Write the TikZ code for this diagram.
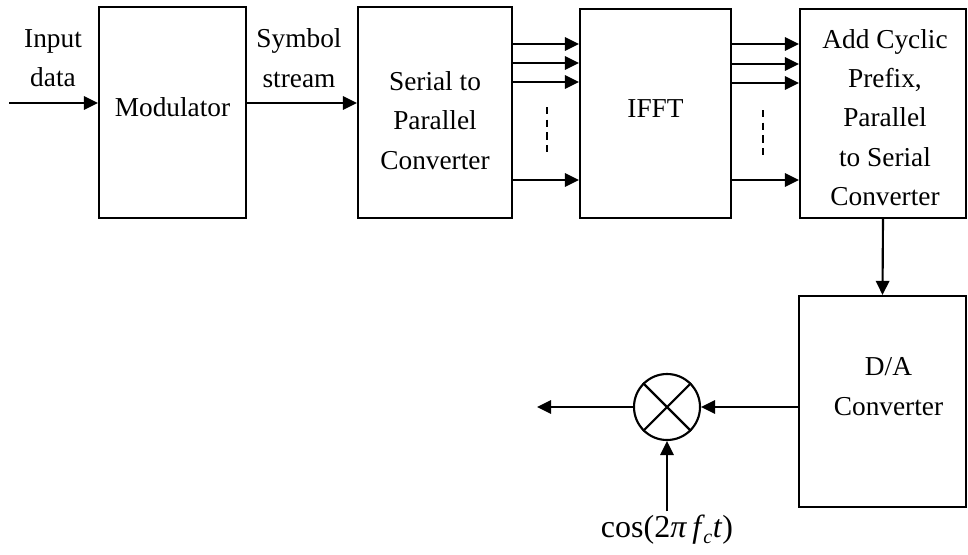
\documentclass[tikz,border=0pt]{standalone}
\usepackage{fontspec}
\setmainfont{Liberation Serif}
\usetikzlibrary{arrows.meta,calc}
\begin{document}
\begin{tikzpicture}[x=0.75pt,y=-0.75pt,
  line width=1.6pt,
  every node/.style={font=\fontsize{20.5}{29.5}\selectfont},
  blk/.style={draw,rectangle,inner sep=0pt},
  lbl/.style={align=center,inner sep=0pt},
  arr/.style={-{Triangle[length=10.5pt,width=10pt]}},
  dsh/.style={line width=1.4pt,dash pattern=on 5.5pt off 4pt}]
\useasboundingbox (0,0) rectangle (968,554);
% blocks
\node[blk,minimum width=147*0.75pt,minimum height=211*0.75pt] (mod) at (172.5,112.5) {};
\node[blk,minimum width=154*0.75pt,minimum height=211*0.75pt] (sp) at (435,112.5) {};
\node[blk,minimum width=151*0.75pt,minimum height=209*0.75pt] (ifft) at (655.5,113.5) {};
\node[blk,minimum width=166*0.75pt,minimum height=209*0.75pt] (cp) at (883,113.5) {};
\node[blk,minimum width=167*0.75pt,minimum height=211*0.75pt] (da) at (882.5,401.5) {};
\node[draw,circle,minimum size=66*0.75pt,inner sep=0pt] (mix) at (667,407) {};
\draw (mix.north west) -- (mix.south east) (mix.north east) -- (mix.south west);
% block texts
\node[lbl] (modt) at ($(mod)+(0,-5)$) {Modulator};
\node[lbl] (spt) at ($(sp)+(0,8)$) {Serial to\\Parallel\\Converter};
\node[lbl] (ifftt) at ($(ifft)+(0,-5)$) {IFFT};
\node[lbl] (cpt) at ($(cp)+(2,4)$) {Add Cyclic\\Prefix,\\Parallel\\to Serial\\Converter};
\node[lbl] (dat) at ($(da)+(6,-15)$) {D/A\\Converter};
% labels
\node[lbl] (inlbl) at (53,58) {Input\\data};
\node[lbl] (symlbl) at (299,58) {Symbol\\stream};
\node[lbl,font=\fontsize{24}{28}\selectfont] (cosl) at (667,530) {cos(2\textit{π}\,\textit{f}\kern-0.05em\raisebox{-0.35ex}{\fontsize{15}{15}\selectfont\textit{c}}\kern0.02em\textit{t})};
% helper coordinates
\coordinate (in) at (9,103);
\coordinate (ys) at (0,103);
\coordinate (a1) at (0,44);
\coordinate (a2) at (0,63);
\coordinate (a3) at (0,82);
\coordinate (a4) at (0,180);
\coordinate (b1) at (0,44);
\coordinate (b2) at (0,64);
\coordinate (b3) at (0,83);
\coordinate (b4) at (0,180);
\coordinate (out) at (537,407);
% connectors
\draw[arr] (in) -- (mod.west |- in);
\draw[arr] (mod.east |- ys) -- (sp.west |- ys);
\foreach \c in {a1,a2,a3,a4}{\draw[arr] (sp.east |- \c) -- (ifft.west |- \c);}
\foreach \c in {b1,b2,b3,b4}{\draw[arr] (ifft.east |- \c) -- (cp.west |- \c);}
\draw[dsh] (547,107) -- (547,153);
\draw[dsh] (763,110) -- (763,156);
\draw[arr] (cp.south) -- (da.north);
\draw[arr] (da.west |- mix) -- (mix.east);
\draw[arr] (mix.west) -- (out);
\draw[arr] ($(cosl.north)+(0,-3)$) -- (mix.south);
\end{tikzpicture}
\end{document}
